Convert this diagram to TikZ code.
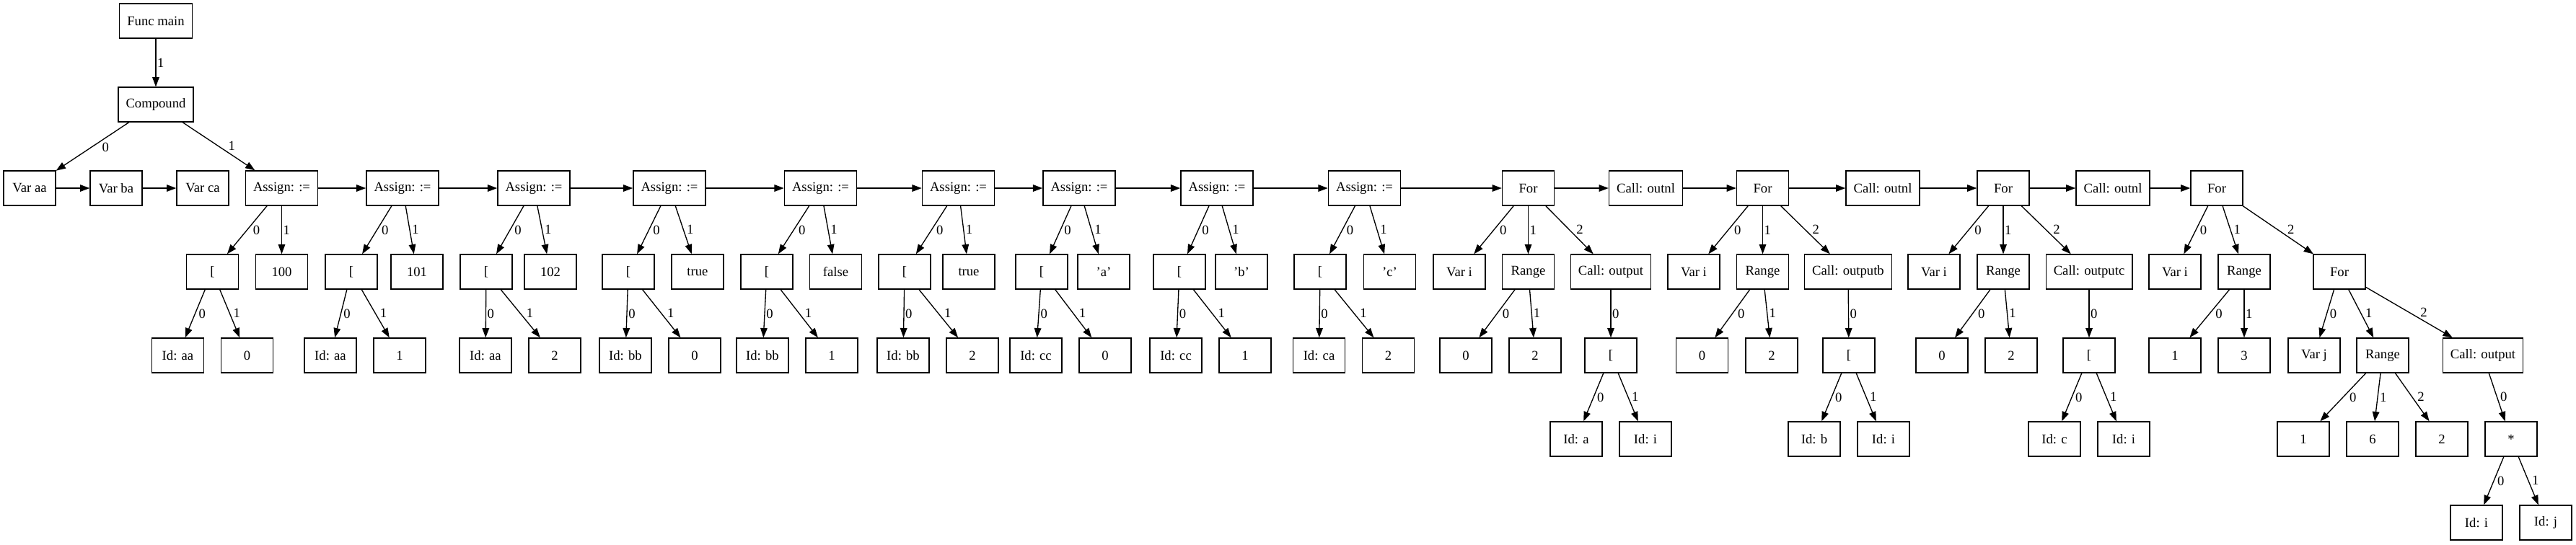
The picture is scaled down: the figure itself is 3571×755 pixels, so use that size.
\documentclass[tikz,border=0pt]{standalone}
\usepackage{fontspec}
\setmainfont{Liberation Serif}
\usetikzlibrary{arrows.meta}
\tikzset{
  box/.style={draw=black, line width=1.33pt, rectangle, minimum width=72pt, minimum height=48pt,
    inner xsep=10.56pt, inner ysep=0pt, font=\fontsize{18.67pt}{22pt}\selectfont},
  edge/.style={draw=black, line width=1.33pt, -{Triangle[length=13.3pt,width=9.6pt]}},
  lbl/.style={inner sep=1.4pt, font=\fontsize{18.67pt}{22pt}\selectfont},
  lL/.style={lbl, pos=0.387, anchor=north west},
  lR/.style={lbl, pos=0.613, anchor=south west},
  lV/.style={lbl, pos=0.5, anchor=west},
}
\begin{document}
\begin{tikzpicture}[x=1pt,y=-1pt]
\useasboundingbox (0,0) rectangle (3571,755);
% row 1-2
\node[box] (fm) at (216,29) {Func main};
\node[box] (cmp) at (216,145) {Compound};
% row 3
\node[box] (vaa) at (41,261) {Var aa};
\node[box] (vba) at (161,261) {Var ba};
\node[box] (vca) at (281,261) {Var ca};
\node[box] (a1) at (390.5,261) {Assign: :=};
\node[box] (a2) at (558,261) {Assign: :=};
\node[box] (a3) at (740,261) {Assign: :=};
\node[box] (a4) at (928,261) {Assign: :=};
\node[box] (a5) at (1137.5,261) {Assign: :=};
\node[box] (a6) at (1328.5,261) {Assign: :=};
\node[box] (a7) at (1496,261) {Assign: :=};
\node[box] (a8) at (1687,261) {Assign: :=};
\node[box] (a9) at (1891.5,261) {Assign: :=};
\node[box] (f1) at (2118.5,261) {For};
\node[box] (o1) at (2281.5,261) {Call: outnl};
\node[box] (f2) at (2443.5,261) {For};
\node[box] (o2) at (2610,261) {Call: outnl};
\node[box] (f3) at (2777,261) {For};
\node[box] (o3) at (2929,261) {Call: outnl};
\node[box] (f4) at (3073,261) {For};
% row 4
\node[box] (b1) at (294.5,377) {[};
\node[box] (v1) at (390.5,377) {100};
\node[box] (b2) at (487,377) {[};
\node[box] (v2) at (578,377) {101};
\node[box] (b3) at (674,377) {[};
\node[box] (v3) at (763,377) {102};
\node[box] (b4) at (871,377) {[};
\node[box] (v4) at (967,377) {true};
\node[box] (b5) at (1063,377) {[};
\node[box] (v5) at (1158.5,377) {false};
\node[box] (b6) at (1254,377) {[};
\node[box] (v6) at (1343,377) {true};
\node[box] (b7) at (1444,377) {[};
\node[box] (v7) at (1530,377) {'a'};
\node[box] (b8) at (1635,377) {[};
\node[box] (v8) at (1721,377) {'b'};
\node[box] (b9) at (1830,377) {[};
\node[box] (v9) at (1926.5,377) {'c'};
\node[box] (f1i) at (2023,377) {Var i};
\node[box] (f1r) at (2118.5,377) {Range};
\node[box] (f1c) at (2233,377) {Call: output};
\node[box] (f2i) at (2348,377) {Var i};
\node[box] (f2r) at (2443.5,377) {Range};
\node[box] (f2c) at (2562,377) {Call: outputb};
\node[box] (f3i) at (2681,377) {Var i};
\node[box] (f3r) at (2777,377) {Range};
\node[box] (f3c) at (2896,377) {Call: outputc};
\node[box] (f4i) at (3015,377) {Var i};
\node[box] (f4r) at (3111,377) {Range};
\node[box] (f4f) at (3243,377) {For};
% row 5
\node[box] (id1) at (246.5,493) {Id: aa};
\node[box] (n1) at (342.5,493) {0};
\node[box] (id2) at (458,493) {Id: aa};
\node[box] (n2) at (554,493) {1};
\node[box] (id3) at (673,493) {Id: aa};
\node[box] (n3) at (769,493) {2};
\node[box] (id4) at (867,493) {Id: bb};
\node[box] (n4) at (963,493) {0};
\node[box] (id5) at (1057,493) {Id: bb};
\node[box] (n5) at (1153,493) {1};
\node[box] (id6) at (1252,493) {Id: bb};
\node[box] (n6) at (1348,493) {2};
\node[box] (id7) at (1436,493) {Id: cc};
\node[box] (n7) at (1532,493) {0};
\node[box] (id8) at (1630,493) {Id: cc};
\node[box] (n8) at (1726,493) {1};
\node[box] (id9) at (1828.5,493) {Id: ca};
\node[box] (n9) at (1924.5,493) {2};
\node[box] (f1r0) at (2032,493) {0};
\node[box] (f1r1) at (2128,493) {2};
\node[box] (f1b) at (2233,493) {[};
\node[box] (f2r0) at (2359.5,493) {0};
\node[box] (f2r1) at (2456,493) {2};
\node[box] (f2b) at (2563,493) {[};
\node[box] (f3r0) at (2692,493) {0};
\node[box] (f3r1) at (2788,493) {2};
\node[box] (f3b) at (2896,493) {[};
\node[box] (f4r0) at (3015,493) {1};
\node[box] (f4r1) at (3111,493) {3};
\node[box] (fjv) at (3208,493) {Var j};
\node[box] (fjr) at (3303,493) {Range};
\node[box] (fjc) at (3442,493) {Call: output};
% row 6
\node[box] (f1a) at (2185,609) {Id: a};
\node[box] (f1ii) at (2281,609) {Id: i};
\node[box] (f2a) at (2515,609) {Id: b};
\node[box] (f2ii) at (2611,609) {Id: i};
\node[box] (f3a) at (2848,609) {Id: c};
\node[box] (f3ii) at (2944,609) {Id: i};
\node[box] (fjr0) at (3193,609) {1};
\node[box] (fjr1) at (3289,609) {6};
\node[box] (fjr2) at (3385,609) {2};
\node[box] (mul) at (3481,609) {*};
% row 7
\node[box] (mi) at (3433,725) {Id: i};
\node[box] (mj) at (3529,725) {Id: j};
% edges
\draw[edge] (fm) -- node[lV]{1} (cmp);
\draw[edge] (cmp) -- node[lL]{0} (vaa);
\draw[edge] (cmp) -- node[lR]{1} (a1);
\draw[edge] (vaa) -- (vba);
\draw[edge] (vba) -- (vca);
\draw[edge] (a1) -- (a2);
\draw[edge] (a2) -- (a3);
\draw[edge] (a3) -- (a4);
\draw[edge] (a4) -- (a5);
\draw[edge] (a5) -- (a6);
\draw[edge] (a6) -- (a7);
\draw[edge] (a7) -- (a8);
\draw[edge] (a8) -- (a9);
\draw[edge] (a9) -- (f1);
\draw[edge] (f1) -- (o1);
\draw[edge] (o1) -- (f2);
\draw[edge] (f2) -- (o2);
\draw[edge] (o2) -- (f3);
\draw[edge] (f3) -- (o3);
\draw[edge] (o3) -- (f4);
% assigns
\draw[edge] (a1) -- node[lL]{0} (b1);
\draw[edge] (a1) -- node[lV]{1} (v1);
\draw[edge] (a2) -- node[lL]{0} (b2);
\draw[edge] (a2) -- node[lR]{1} (v2);
\draw[edge] (a3) -- node[lL]{0} (b3);
\draw[edge] (a3) -- node[lR]{1} (v3);
\draw[edge] (a4) -- node[lL]{0} (b4);
\draw[edge] (a4) -- node[lR]{1} (v4);
\draw[edge] (a5) -- node[lL]{0} (b5);
\draw[edge] (a5) -- node[lR]{1} (v5);
\draw[edge] (a6) -- node[lL]{0} (b6);
\draw[edge] (a6) -- node[lR]{1} (v6);
\draw[edge] (a7) -- node[lL]{0} (b7);
\draw[edge] (a7) -- node[lR]{1} (v7);
\draw[edge] (a8) -- node[lL]{0} (b8);
\draw[edge] (a8) -- node[lR]{1} (v8);
\draw[edge] (a9) -- node[lL]{0} (b9);
\draw[edge] (a9) -- node[lR]{1} (v9);
\draw[edge] (b1) -- node[lL]{0} (id1);
\draw[edge] (b1) -- node[lR]{1} (n1);
\draw[edge] (b2) -- node[lL]{0} (id2);
\draw[edge] (b2) -- node[lR]{1} (n2);
\draw[edge] (b3) -- node[lL]{0} (id3);
\draw[edge] (b3) -- node[lR]{1} (n3);
\draw[edge] (b4) -- node[lL]{0} (id4);
\draw[edge] (b4) -- node[lR]{1} (n4);
\draw[edge] (b5) -- node[lL]{0} (id5);
\draw[edge] (b5) -- node[lR]{1} (n5);
\draw[edge] (b6) -- node[lL]{0} (id6);
\draw[edge] (b6) -- node[lR]{1} (n6);
\draw[edge] (b7) -- node[lL]{0} (id7);
\draw[edge] (b7) -- node[lR]{1} (n7);
\draw[edge] (b8) -- node[lL]{0} (id8);
\draw[edge] (b8) -- node[lR]{1} (n8);
\draw[edge] (b9) -- node[lL]{0} (id9);
\draw[edge] (b9) -- node[lR]{1} (n9);
% for loops 1-3
\draw[edge] (f1) -- node[lL]{0} (f1i);
\draw[edge] (f1) -- node[lV]{1} (f1r);
\draw[edge] (f1) -- node[lR]{2} (f1c);
\draw[edge] (f1r) -- node[lL]{0} (f1r0);
\draw[edge] (f1r) -- node[lR]{1} (f1r1);
\draw[edge] (f1c) -- node[lV]{0} (f1b);
\draw[edge] (f1b) -- node[lL]{0} (f1a);
\draw[edge] (f1b) -- node[lR]{1} (f1ii);
\draw[edge] (f2) -- node[lL]{0} (f2i);
\draw[edge] (f2) -- node[lV]{1} (f2r);
\draw[edge] (f2) -- node[lR]{2} (f2c);
\draw[edge] (f2r) -- node[lL]{0} (f2r0);
\draw[edge] (f2r) -- node[lR]{1} (f2r1);
\draw[edge] (f2c) -- node[lV]{0} (f2b);
\draw[edge] (f2b) -- node[lL]{0} (f2a);
\draw[edge] (f2b) -- node[lR]{1} (f2ii);
\draw[edge] (f3) -- node[lL]{0} (f3i);
\draw[edge] (f3) -- node[lV]{1} (f3r);
\draw[edge] (f3) -- node[lR]{2} (f3c);
\draw[edge] (f3r) -- node[lL]{0} (f3r0);
\draw[edge] (f3r) -- node[lR]{1} (f3r1);
\draw[edge] (f3c) -- node[lV]{0} (f3b);
\draw[edge] (f3b) -- node[lL]{0} (f3a);
\draw[edge] (f3b) -- node[lR]{1} (f3ii);
% for loop 4
\draw[edge] (f4) -- node[lL]{0} (f4i);
\draw[edge] (f4) -- node[lR]{1} (f4r);
\draw[edge] (f4) -- node[lR]{2} (f4f);
\draw[edge] (f4r) -- node[lL]{0} (f4r0);
\draw[edge] (f4r) -- node[lV]{1} (f4r1);
\draw[edge] (f4f) -- node[lL]{0} (fjv);
\draw[edge] (f4f) -- node[lR]{1} (fjr);
\draw[edge] (f4f) -- node[lR]{2} (fjc);
\draw[edge] (fjr) -- node[lL]{0} (fjr0);
\draw[edge] (fjr) -- node[lL]{1} (fjr1);
\draw[edge] (fjr) -- node[lR]{2} (fjr2);
\draw[edge] (fjc) -- node[lR]{0} (mul);
\draw[edge] (mul) -- node[lL]{0} (mi);
\draw[edge] (mul) -- node[lR]{1} (mj);
\end{tikzpicture}
\end{document}
